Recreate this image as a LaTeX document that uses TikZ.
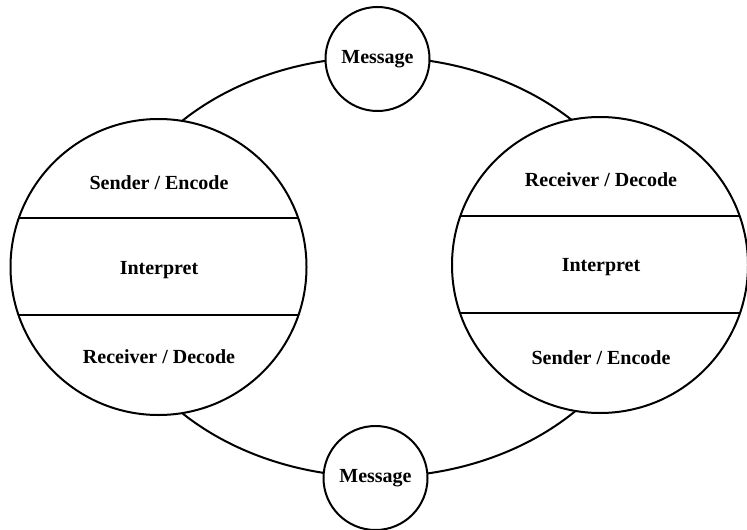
\documentclass[tikz,border=0pt]{standalone}
\usepackage{fontspec}
\setmainfont{Liberation Serif}
\usetikzlibrary{shapes.geometric}

\tikzset{
  ink/.style={line width=2pt, black},
  ring/.style={ink, ellipse, draw, inner sep=0pt},
  party/.style={ink, circle, draw, fill=white, inner sep=0pt, minimum size=296pt},
  msg/.style={ink, circle, draw, fill=white, inner sep=0pt, minimum size=104pt,
    font=\fontsize{20}{22}\selectfont\bfseries},
  lbl/.style={font=\fontsize{20}{23}\selectfont\bfseries, inner sep=0pt}
}

\begin{document}
\begin{tikzpicture}[x=1pt, y=-1pt]
  \useasboundingbox (0,0) rectangle (747,530);

  % the communication loop
  \node[ring, minimum width=544pt, minimum height=420pt] (loop) at (377.5,267) {};

  % the two parties
  \node[party] (left) at (158.5,267) {};
  \node[party] (right) at (600,265) {};

  % bands inside each party
  \begin{scope}
    \clip (left.center) circle[radius=148pt];
    \draw[ink] (0,218) -- (320,218);
    \draw[ink] (0,315) -- (320,315);
  \end{scope}
  \begin{scope}
    \clip (right.center) circle[radius=148pt];
    \draw[ink] (440,216) -- (760,216);
    \draw[ink] (440,313) -- (760,313);
  \end{scope}

  \node[lbl] (l1) at (159,183) {Sender / Encode};
  \node[lbl] (l2) at (159,270) {Interpret};
  \node[lbl] (l3) at (159,357) {Receiver / Decode};

  \node[lbl] (r1) at (601,180) {Receiver / Decode};
  \node[lbl] (r2) at (601,267) {Interpret};
  \node[lbl] (r3) at (601,358) {Sender / Encode};

  % messages travelling along the loop
  \node[msg] (mtop) at (377.5,59) {Message};
  \node[msg] (mbot) at (375.5,478) {Message};
\end{tikzpicture}
\end{document}
